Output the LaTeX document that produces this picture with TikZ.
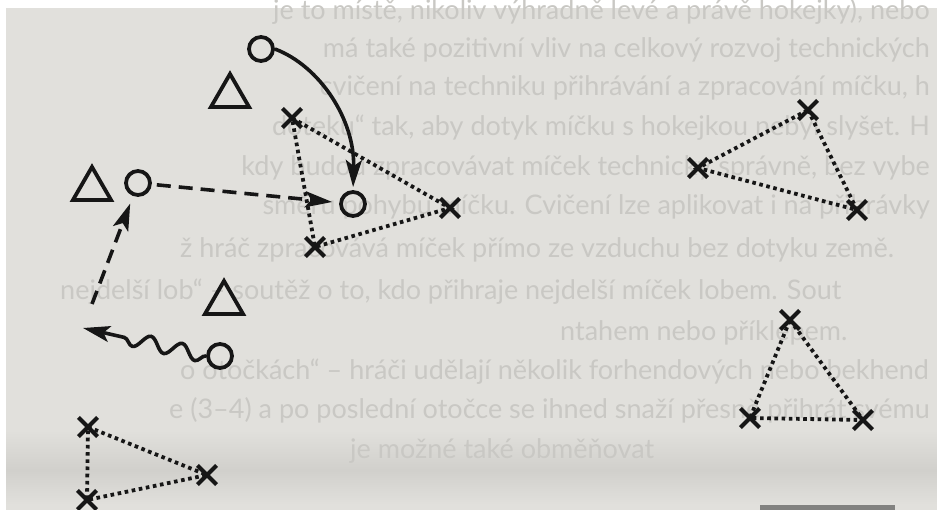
\documentclass[tikz,border=0pt]{standalone}
\usepackage{fontspec}
\newfontfamily\ghostfont{Lato}
\usetikzlibrary{arrows.meta,shapes.geometric,shapes.misc,decorations.pathmorphing}
\definecolor{pagebg}{RGB}{225,224,220}
\definecolor{pageshade}{RGB}{209,208,204}
\definecolor{ghostink}{RGB}{201,200,196}
\definecolor{ink}{RGB}{22,22,22}
\definecolor{barcol}{RGB}{130,130,128}
\tikzset{
  pcircle/.style={circle,draw=ink,line width=3.8pt,minimum size=24pt,inner sep=0pt},
  pcross/.style={cross out,draw=ink,line width=4.2pt,minimum size=15pt,inner sep=0pt},
  ptri/.style={regular polygon,regular polygon sides=3,draw=ink,line width=3.8pt,minimum size=44pt,inner sep=0pt},
  dotline/.style={draw=ink,line width=3.8pt,line cap=butt,dash pattern=on 3.6pt off 3.6pt},
  headtip/.style={-{Stealth[length=27pt,width=16pt,inset=6pt]}},
  dasharrow/.style={draw=ink,line width=3.6pt,dash pattern=on 14pt off 8pt,headtip},
  solidarrow/.style={draw=ink,line width=3.6pt,headtip},
  wavearrow/.style={draw=ink,line width=3.6pt,headtip,decorate,
    decoration={snake,segment length=32pt,amplitude=7pt,post length=34pt}},
  ghostw/.style={anchor=base west,inner sep=0pt,text=ghostink,font=\ghostfont\fontsize{27}{30}\selectfont},
  ghoste/.style={anchor=base east,inner sep=0pt,text=ghostink,font=\ghostfont\fontsize{27}{30}\selectfont}
}
\begin{document}
\begin{tikzpicture}[x=1pt,y=-1pt]
\clip (0,0) rectangle (937,510);
% page
\fill[white] (0,0) rectangle (937,510);
\fill[pagebg] (6,8) rectangle (937,510);
\shade[top color=pagebg,bottom color=pageshade] (6,430) rectangle (937,470);
\shade[top color=pageshade,bottom color=pagebg] (6,470) rectangle (937,505);
\fill[barcol] (760,505) rectangle (895,510);
% faint text of the page
\node[ghoste] (g1) at (930,20) {je to místě, nikoliv výhradně levé a právě hokejky), nebo};
\node[ghoste] (g2) at (930,58) {má také pozitivní vliv na celkový rozvoj technických};
\node[ghoste] (g3) at (930,96) {cvičení na techniku přihrávání a zpracování míčku, h};
\node[ghoste] (g4) at (930,136) {doteku“ tak, aby dotyk míčku s hokejkou nebyl slyšet. H};
\node[ghoste] (g5) at (930,176) {kdy budou zpracovávat míček technicky správně, bez vybe};
\node[ghoste] (g6) at (930,215) {směru pohybu míčku. Cvičení lze aplikovat i na přihrávky};
\node[ghostw] (g7) at (180,258) {ž hráč zpracovává míček přímo ze vzduchu bez dotyku země.};
\node[ghostw] (g8) at (60,300) {nejdelší lob“ – soutěž o to, kdo přihraje nejdelší míček lobem. Sout};
\node[ghostw] (g9) at (560,341) {ntahem nebo příklepem.};
\node[ghostw] (g10) at (180,380) {o otočkách“ – hráči udělají několik forhendových nebo bekhend};
\node[ghoste] (g11) at (930,418) {e (3–4) a po poslední otočce se ihned snaží přesně přihrát svému};
\node[ghostw] (g12) at (350,458) {je možné také obměňovat};
% players
\node[pcircle] (o1) at (261,49) {};
\node[pcircle] (o2) at (353,204) {};
\node[pcircle] (o3) at (138,183) {};
\node[pcircle] (o4) at (220,356) {};
\node[ptri] (t1) at (230,96) {};
\node[ptri] (t2) at (92,189) {};
\node[ptri] (t3) at (224,303) {};
% crosses
\node[pcross] (a1) at (292,118) {};
\node[pcross] (a2) at (450,208) {};
\node[pcross] (a3) at (315,247) {};
\node[pcross] (b1) at (808,110) {};
\node[pcross] (b2) at (698,168) {};
\node[pcross] (b3) at (857,210) {};
\node[pcross] (c1) at (790,320) {};
\node[pcross] (c2) at (750,418) {};
\node[pcross] (c3) at (863,420) {};
\node[pcross] (d1) at (88,427) {};
\node[pcross] (d2) at (207,475) {};
\node[pcross] (d3) at (87,500) {};
% dotted triangles
\draw[dotline] (a1.center) -- (a2.center) -- (a3.center) -- cycle;
\draw[dotline] (b1.center) -- (b3.center) -- (b2.center) -- cycle;
\draw[dotline] (c1.center) -- (c3.center) -- (c2.center) -- cycle;
\draw[dotline] (d1.center) -- (d2.center) -- (d3.center) -- cycle;
% arrows
\draw[solidarrow,shorten >=3pt] (o1.east) .. controls (320,66) and (355,120) .. (o2.north);
\draw[dasharrow,shorten <=5pt,shorten >=7pt] (o3) -- (o2);
\coordinate (ds) at (92,304);
\draw[dasharrow,shorten >=8pt] (ds) -- (o3);
\coordinate (wt) at (83,328);
\draw[wavearrow] (o4.west) -- (wt);
\end{tikzpicture}
\end{document}
